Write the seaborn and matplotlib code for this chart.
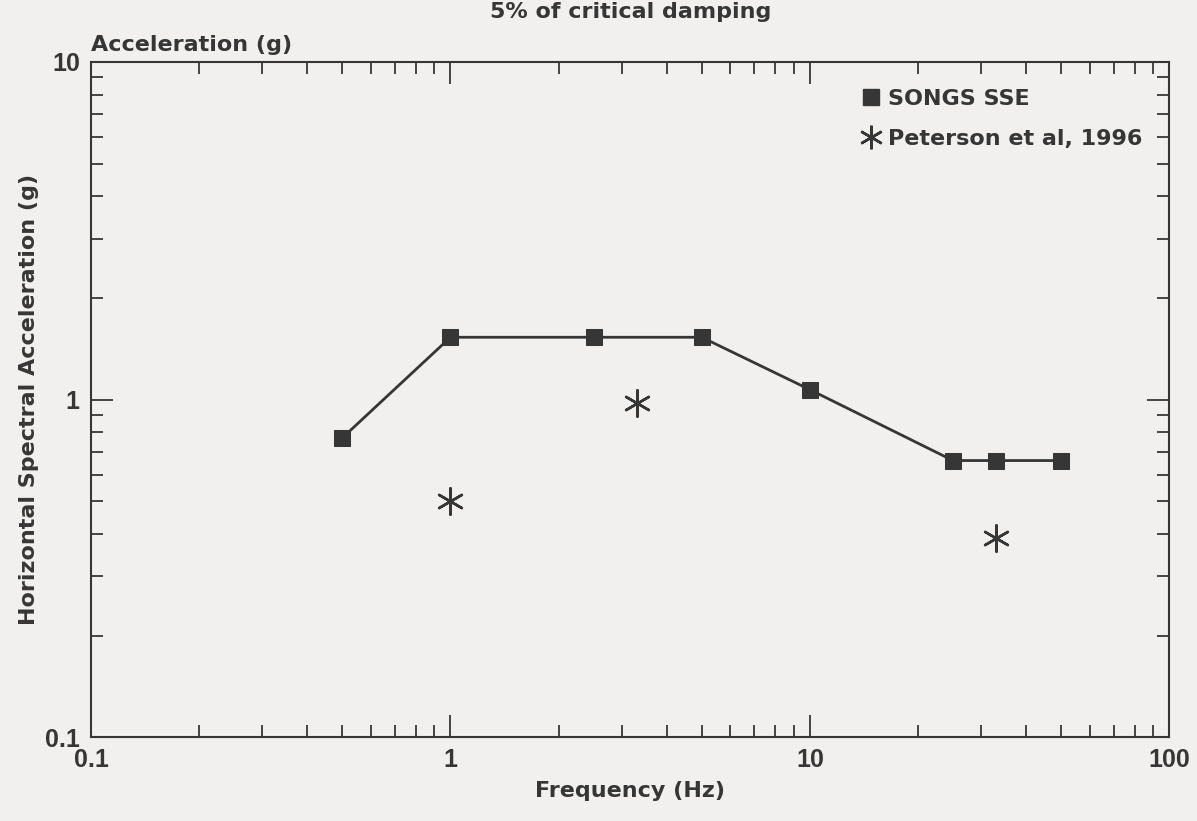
import numpy as np
import pandas as pd
import matplotlib
matplotlib.use("Agg")
import matplotlib.pyplot as plt
import matplotlib.ticker as mticker
from matplotlib.lines import Line2D
import seaborn as sns

# SONGS SSE design spectrum
sse_freq = [0.5, 1.0, 2.5, 5.0, 10.0, 25.0, 33.0, 50.0]
sse_acc = [0.77, 1.53, 1.53, 1.53, 1.07, 0.66, 0.66, 0.66]

# Peterson et al, 1996
pet_freq = [1.0, 3.3, 33.0]
pet_acc = [0.50, 0.98, 0.39]

x_ticks = [0.1, 1, 10, 100]
x_tick_labels = ["0.1", "1", "10", "100"]
y_ticks = [0.1, 1, 10]
y_tick_labels = ["0.1", "1", "10"]

sns.set_style("ticks")
plt.rcParams["font.family"] = ["DejaVu Sans"]

ink = "#363636"
paper = "#f1f0ee"

df_sse = pd.DataFrame({"freq": sse_freq, "acc": sse_acc})
df_pet = pd.DataFrame({"freq": pet_freq, "acc": pet_acc})

fig = plt.figure(figsize=(11.97, 8.21), dpi=100, facecolor=paper)
ax = fig.add_axes([0.076, 0.102, 0.901, 0.8225])
ax.set_facecolor(paper)

sns.lineplot(data=df_sse, x="freq", y="acc", ax=ax, color=ink, linewidth=2,
             marker="s", markersize=12, markeredgecolor=ink, markerfacecolor=ink)
sns.scatterplot(data=df_pet, x="freq", y="acc", ax=ax, color=ink,
                marker=(6, 2, 0), s=360, linewidth=1.8)

ax.set_xscale("log")
ax.set_yscale("log")
ax.set_xlim(0.1, 100)
ax.set_ylim(0.1, 10)

ax.xaxis.set_major_locator(mticker.FixedLocator(x_ticks))
ax.xaxis.set_major_formatter(mticker.FixedFormatter(x_tick_labels))
ax.yaxis.set_major_locator(mticker.FixedLocator(y_ticks))
ax.yaxis.set_major_formatter(mticker.FixedFormatter(y_tick_labels))
ax.xaxis.set_minor_locator(mticker.LogLocator(base=10, subs=np.arange(2, 10)))
ax.yaxis.set_minor_locator(mticker.LogLocator(base=10, subs=np.arange(2, 10)))
ax.xaxis.set_minor_formatter(mticker.NullFormatter())
ax.yaxis.set_minor_formatter(mticker.NullFormatter())

ax.tick_params(which="both", direction="in", top=True, right=True, color=ink, width=1.3)
ax.tick_params(which="major", length=16, pad=8, labelsize=18, labelcolor=ink)
ax.tick_params(which="minor", length=8.5)
for lab in ax.get_xticklabels() + ax.get_yticklabels():
    lab.set_fontweight("bold")
    lab.set_family(["Liberation Sans Narrow", "Liberation Sans", "DejaVu Sans"])

for sp in ax.spines.values():
    sp.set_color(ink)
    sp.set_linewidth(1.5)

ax.set_xlabel("Frequency (Hz)", fontsize=16, fontweight="bold", color=ink, labelpad=6)
ax.set_ylabel("Horizontal Spectral Acceleration (g)", fontsize=16, fontweight="bold",
              color=ink, labelpad=4)

fig.text(0.076, 0.938, "Acceleration (g)", fontsize=16, fontweight="bold", color=ink,
         ha="left", va="baseline")
# the scan crops this title at the top edge; keep it just inside the canvas
fig.text(0.527, 0.978, "5% of critical damping", fontsize=16, fontweight="bold",
         color=ink, ha="center", va="baseline")

handles = [
    Line2D([], [], linestyle="none", marker="s", markersize=11, color=ink),
    Line2D([], [], linestyle="none", marker=(6, 2, 0), markersize=17,
           markeredgewidth=1.8, color=ink),
]
leg = ax.legend(handles, ["SONGS SSE", "Peterson et al, 1996"], loc="upper right",
                frameon=False, handlelength=0.8, handletextpad=0.4,
                borderaxespad=0.8, labelspacing=0.9, prop={"weight": "bold", "size": 16})
for t in leg.get_texts():
    t.set_color(ink)

fig.savefig("out.png", dpi=100, facecolor=paper)
